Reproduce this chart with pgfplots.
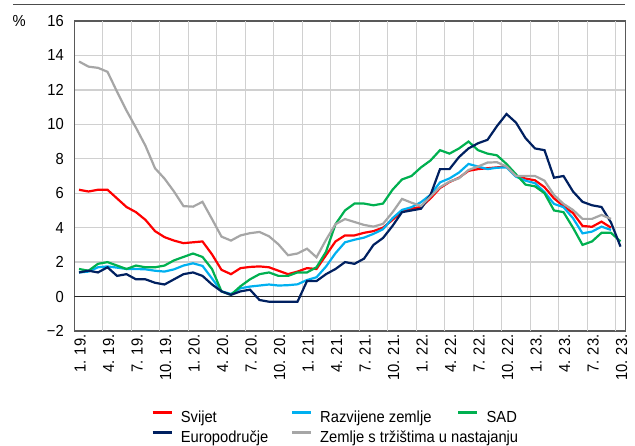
\documentclass[border=0pt]{standalone}
\usepackage{pgfplots}
\pgfplotsset{compat=1.18}
\usepackage{pgfplotstable}
\usepackage{fontspec}
\setmainfont{Liberation Sans}[FakeStretch=0.92]
\newcommand\ff{\fontsize{16}{19}\selectfont}
\definecolor{cred}{RGB}{255,0,0}
\definecolor{cblue}{RGB}{0,176,240}
\definecolor{cgreen}{RGB}{0,176,80}
\definecolor{cnavy}{RGB}{0,32,96}
\definecolor{cgrey}{RGB}{166,166,166}
\definecolor{cgrid}{RGB}{208,208,208}
\pgfplotstableread{
i svijet razv sad euro em
0  6.20 1.40 1.6 1.4 13.65
1  6.10 1.45 1.5 1.5 13.35
2  6.20 1.70 1.9 1.4 13.28
3  6.20 1.75 2.0 1.7 13.05
4  5.70 1.68 1.8 1.2 11.90
5  5.20 1.60 1.6 1.3 10.80
6  4.90 1.60 1.8 1.0 9.80
7  4.45 1.58 1.7 1.0 8.75
8  3.80 1.50 1.7 0.8 7.45
9  3.45 1.45 1.8 0.7 6.85
10 3.25 1.58 2.1 1.0 6.10
11 3.10 1.80 2.3 1.3 5.25
12 3.15 1.93 2.5 1.4 5.22
13 3.20 1.78 2.3 1.2 5.50
14 2.45 1.05 1.6 0.7 4.50
15 1.55 0.30 0.3 0.3 3.48
16 1.30 0.15 0.1 0.1 3.25
17 1.65 0.48 0.6 0.3 3.55
18 1.72 0.58 1.0 0.4 3.68
19 1.75 0.64 1.3 -0.2 3.75
20 1.70 0.70 1.4 -0.3 3.50
21 1.50 0.64 1.2 -0.3 3.03
22 1.30 0.66 1.2 -0.3 2.40
23 1.45 0.71 1.4 -0.3 2.50
24 1.65 0.96 1.4 0.9 2.78
25 1.60 1.12 1.7 0.9 2.28
26 2.40 1.74 2.6 1.3 3.29
27 3.20 2.52 4.2 1.6 4.20
28 3.55 3.15 5.0 2.0 4.50
29 3.55 3.30 5.4 1.9 4.33
30 3.70 3.42 5.4 2.2 4.16
31 3.80 3.64 5.3 3.0 4.06
32 4.00 3.91 5.4 3.4 4.22
33 4.45 4.55 6.2 4.1 4.89
34 4.95 5.03 6.8 4.9 5.67
35 5.10 5.19 7.0 5.0 5.45
36 5.20 5.48 7.5 5.1 5.26
37 5.70 5.91 7.9 5.9 5.80
38 6.30 6.63 8.5 7.4 6.35
39 6.65 6.86 8.3 7.4 6.67
40 6.90 7.20 8.6 8.1 6.87
41 7.30 7.70 9.0 8.6 7.35
42 7.40 7.55 8.5 8.9 7.55
43 7.45 7.40 8.3 9.1 7.78
44 7.50 7.48 8.2 9.9 7.80
45 7.55 7.50 7.7 10.6 7.55
46 7.00 6.96 7.1 10.1 7.00
47 6.85 6.73 6.5 9.2 7.00
48 6.75 6.58 6.4 8.6 7.00
49 6.35 6.07 6.0 8.5 6.73
50 5.70 5.38 5.0 6.9 5.90
51 5.25 5.19 4.9 7.0 5.38
52 4.85 4.55 4.0 6.1 5.03
53 4.10 3.67 3.0 5.5 4.51
54 4.05 3.77 3.2 5.3 4.51
55 4.35 4.06 3.7 5.2 4.74
56 4.00 3.87 3.7 4.3 4.51
57 nan nan 3.2 2.9 nan
}\datatable
\begin{document}
\begin{tikzpicture}
\useasboundingbox (0pt,0pt) rectangle (635pt,-446pt);
\draw[black!70, line width=1pt] (13pt,-5pt) -- (625pt,-5pt);
\begin{axis}[
  at={(74.25pt,-21pt)}, anchor=north west,
  scale only axis, width=551pt, height=310pt,
  xmin=-0.5, xmax=57.5, ymin=-2, ymax=16,
  xtick={0,3,...,57},
  xticklabels={1. 19., 4. 19., 7. 19., 10. 19., 1. 20., 4. 20., 7. 20., 10. 20., 1. 21., 4. 21., 7. 21., 10. 21., 1. 22., 4. 22., 7. 22., 10. 22., 1. 23., 4. 23., 7. 23., 10. 23.},
  ytick={-2,0,...,16},
  yticklabels={−2,0,2,4,6,8,10,12,14,16},
  ymajorgrids=true, xmajorgrids=false,
  major y grid style={draw=cgrid, line width=1.3pt},
  major tick length=0pt, minor tick length=0pt,
  tick style={draw=none},
  axis line style={black!65, line width=1.3pt},
  tick label style={font=\ff},
  xticklabel style={rotate=90, anchor=east, yshift=-1pt},
  yticklabel style={xshift=-7pt},
  ylabel={\%}, ylabel style={font=\ff, rotate=-90, at={(axis description cs:-0.1,1)}, anchor=center},
  unbounded coords=jump,
  legend columns=3,
  legend image code/.code={\draw[#1, line width=2.4pt] (0pt,5pt) -- (19pt,5pt);},
  legend style={draw=none, fill=none, at={(axis description cs:0.1343,-0.248)}, anchor=north west,
    font=\ff, row sep=5pt, column sep=0pt,
    nodes={inner sep=0pt, text height=12pt, text depth=3pt},
    /tikz/every odd column/.append style={column sep=8pt}},
  legend cell align=left,
  every axis plot/.append style={line width=2.2pt, no markers},
]
\pgfplotsinvokeforeach{2.5,5.5,...,56.5}{\draw[cgrid, line width=1.3pt] (axis cs:#1,-2) -- (axis cs:#1,16);}
\draw[black!85, line width=0.9pt] (axis cs:-0.5,0) -- (axis cs:57.5,0);
\addplot[cred] table[x=i, y=svijet] {\datatable};
\addlegendentry{\makebox[110pt][l]{Svijet}}
\addplot[cblue] table[x=i, y=razv] {\datatable};
\addlegendentry{\makebox[137pt][l]{Razvijene zemlje}}
\addplot[cgreen] table[x=i, y=sad] {\datatable};
\addlegendentry{SAD}
\addplot[cnavy] table[x=i, y=euro] {\datatable};
\addlegendentry{\makebox[110pt][l]{Europodručje}}
\addplot[cgrey] table[x=i, y=em] {\datatable};
\addlegendentry{\makebox[137pt][l]{Zemlje s tržištima u nastajanju}}
\end{axis}
\end{tikzpicture}
\end{document}
